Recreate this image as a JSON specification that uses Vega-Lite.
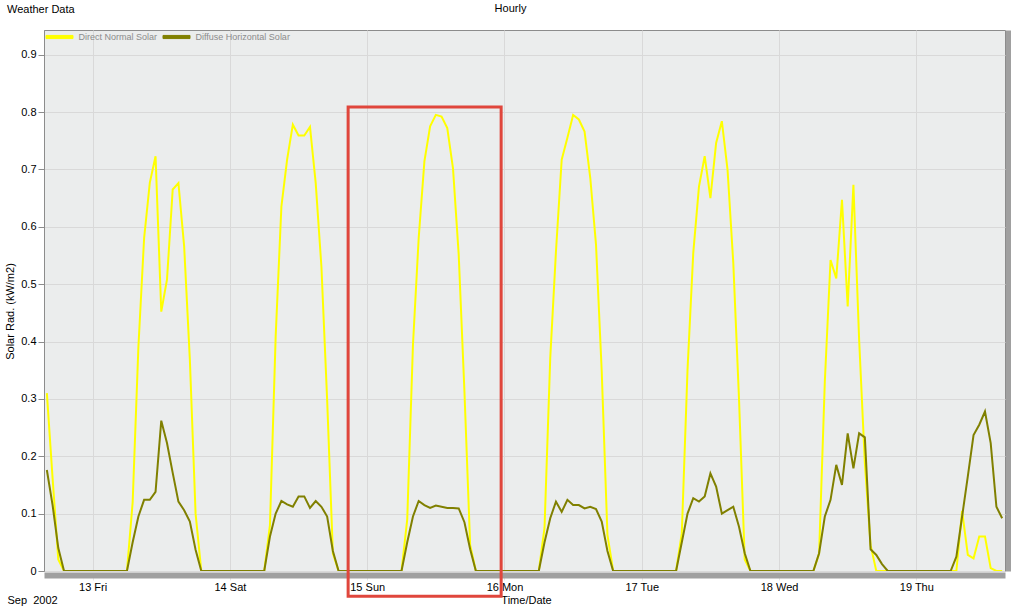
{
  "$schema": "https://vega.github.io/schema/vega-lite/v6.json",
  "width": 961,
  "height": 541,
  "autosize": {"type": "none"},
  "padding": {"left": 44, "top": 30, "right": 12, "bottom": 36},
  "background": "white",
  "title": {"text": "Weather Data", "anchor": "start", "frame": "group", "dx": -37, "dy": 13, "offset": 0, "fontSize": 11, "fontWeight": "normal", "font": "Liberation Sans", "color": "#000000"},
  "config": {
    "font": "Liberation Sans",
    "view": {"fill": "#ebeded", "stroke": "#8c8c8c", "strokeWidth": 1},
    "axisBottom": {"domain": true, "domainColor": "#a0a0a0", "domainWidth": 6},
    "axisRight": {"domain": true, "domainColor": "#a0a0a0", "domainWidth": 5}
  },
  "datasets": {
    "solar": [
      {"t":"2002-09-12T16:00","dn":0.31,"dh":0.176},
      {"t":"2002-09-12T17:00","dn":0.162,"dh":0.115},
      {"t":"2002-09-12T18:00","dn":0.02,"dh":0.04},
      {"t":"2002-09-12T19:00","dn":0,"dh":0},
      {"t":"2002-09-12T20:00","dn":0,"dh":0},
      {"t":"2002-09-12T21:00","dn":0,"dh":0},
      {"t":"2002-09-12T22:00","dn":0,"dh":0},
      {"t":"2002-09-12T23:00","dn":0,"dh":0},
      {"t":"2002-09-13T00:00","dn":0,"dh":0},
      {"t":"2002-09-13T01:00","dn":0,"dh":0},
      {"t":"2002-09-13T02:00","dn":0,"dh":0},
      {"t":"2002-09-13T03:00","dn":0,"dh":0},
      {"t":"2002-09-13T04:00","dn":0,"dh":0},
      {"t":"2002-09-13T05:00","dn":0,"dh":0},
      {"t":"2002-09-13T06:00","dn":0,"dh":0},
      {"t":"2002-09-13T07:00","dn":0.12,"dh":0.05},
      {"t":"2002-09-13T08:00","dn":0.39,"dh":0.095},
      {"t":"2002-09-13T09:00","dn":0.58,"dh":0.124},
      {"t":"2002-09-13T10:00","dn":0.677,"dh":0.124},
      {"t":"2002-09-13T11:00","dn":0.723,"dh":0.138},
      {"t":"2002-09-13T12:00","dn":0.452,"dh":0.262},
      {"t":"2002-09-13T13:00","dn":0.508,"dh":0.223},
      {"t":"2002-09-13T14:00","dn":0.665,"dh":0.171},
      {"t":"2002-09-13T15:00","dn":0.676,"dh":0.121},
      {"t":"2002-09-13T16:00","dn":0.566,"dh":0.106},
      {"t":"2002-09-13T17:00","dn":0.368,"dh":0.086},
      {"t":"2002-09-13T18:00","dn":0.1,"dh":0.037},
      {"t":"2002-09-13T19:00","dn":0,"dh":0},
      {"t":"2002-09-13T20:00","dn":0,"dh":0},
      {"t":"2002-09-13T21:00","dn":0,"dh":0},
      {"t":"2002-09-13T22:00","dn":0,"dh":0},
      {"t":"2002-09-13T23:00","dn":0,"dh":0},
      {"t":"2002-09-14T00:00","dn":0,"dh":0},
      {"t":"2002-09-14T01:00","dn":0,"dh":0},
      {"t":"2002-09-14T02:00","dn":0,"dh":0},
      {"t":"2002-09-14T03:00","dn":0,"dh":0},
      {"t":"2002-09-14T04:00","dn":0,"dh":0},
      {"t":"2002-09-14T05:00","dn":0,"dh":0},
      {"t":"2002-09-14T06:00","dn":0,"dh":0},
      {"t":"2002-09-14T07:00","dn":0.08,"dh":0.06},
      {"t":"2002-09-14T08:00","dn":0.409,"dh":0.1},
      {"t":"2002-09-14T09:00","dn":0.635,"dh":0.122},
      {"t":"2002-09-14T10:00","dn":0.717,"dh":0.116},
      {"t":"2002-09-14T11:00","dn":0.778,"dh":0.112},
      {"t":"2002-09-14T12:00","dn":0.759,"dh":0.13},
      {"t":"2002-09-14T13:00","dn":0.759,"dh":0.13},
      {"t":"2002-09-14T14:00","dn":0.774,"dh":0.11},
      {"t":"2002-09-14T15:00","dn":0.676,"dh":0.122},
      {"t":"2002-09-14T16:00","dn":0.53,"dh":0.112},
      {"t":"2002-09-14T17:00","dn":0.298,"dh":0.095},
      {"t":"2002-09-14T18:00","dn":0.031,"dh":0.035},
      {"t":"2002-09-14T19:00","dn":0,"dh":0},
      {"t":"2002-09-14T20:00","dn":0,"dh":0},
      {"t":"2002-09-14T21:00","dn":0,"dh":0},
      {"t":"2002-09-14T22:00","dn":0,"dh":0},
      {"t":"2002-09-14T23:00","dn":0,"dh":0},
      {"t":"2002-09-15T00:00","dn":0,"dh":0},
      {"t":"2002-09-15T01:00","dn":0,"dh":0},
      {"t":"2002-09-15T02:00","dn":0,"dh":0},
      {"t":"2002-09-15T03:00","dn":0,"dh":0},
      {"t":"2002-09-15T04:00","dn":0,"dh":0},
      {"t":"2002-09-15T05:00","dn":0,"dh":0},
      {"t":"2002-09-15T06:00","dn":0,"dh":0},
      {"t":"2002-09-15T07:00","dn":0.09,"dh":0.05},
      {"t":"2002-09-15T08:00","dn":0.394,"dh":0.095},
      {"t":"2002-09-15T09:00","dn":0.58,"dh":0.122},
      {"t":"2002-09-15T10:00","dn":0.714,"dh":0.115},
      {"t":"2002-09-15T11:00","dn":0.775,"dh":0.11},
      {"t":"2002-09-15T12:00","dn":0.795,"dh":0.114},
      {"t":"2002-09-15T13:00","dn":0.792,"dh":0.112},
      {"t":"2002-09-15T14:00","dn":0.772,"dh":0.11},
      {"t":"2002-09-15T15:00","dn":0.702,"dh":0.11},
      {"t":"2002-09-15T16:00","dn":0.551,"dh":0.109},
      {"t":"2002-09-15T17:00","dn":0.313,"dh":0.085},
      {"t":"2002-09-15T18:00","dn":0.045,"dh":0.038},
      {"t":"2002-09-15T19:00","dn":0,"dh":0},
      {"t":"2002-09-15T20:00","dn":0,"dh":0},
      {"t":"2002-09-15T21:00","dn":0,"dh":0},
      {"t":"2002-09-15T22:00","dn":0,"dh":0},
      {"t":"2002-09-15T23:00","dn":0,"dh":0},
      {"t":"2002-09-16T00:00","dn":0,"dh":0},
      {"t":"2002-09-16T01:00","dn":0,"dh":0},
      {"t":"2002-09-16T02:00","dn":0,"dh":0},
      {"t":"2002-09-16T03:00","dn":0,"dh":0},
      {"t":"2002-09-16T04:00","dn":0,"dh":0},
      {"t":"2002-09-16T05:00","dn":0,"dh":0},
      {"t":"2002-09-16T06:00","dn":0,"dh":0},
      {"t":"2002-09-16T07:00","dn":0.075,"dh":0.05},
      {"t":"2002-09-16T08:00","dn":0.371,"dh":0.092},
      {"t":"2002-09-16T09:00","dn":0.557,"dh":0.121},
      {"t":"2002-09-16T10:00","dn":0.717,"dh":0.103},
      {"t":"2002-09-16T11:00","dn":0.755,"dh":0.124},
      {"t":"2002-09-16T12:00","dn":0.795,"dh":0.115},
      {"t":"2002-09-16T13:00","dn":0.787,"dh":0.115},
      {"t":"2002-09-16T14:00","dn":0.766,"dh":0.109},
      {"t":"2002-09-16T15:00","dn":0.685,"dh":0.112},
      {"t":"2002-09-16T16:00","dn":0.569,"dh":0.108},
      {"t":"2002-09-16T17:00","dn":0.348,"dh":0.086},
      {"t":"2002-09-16T18:00","dn":0.063,"dh":0.035},
      {"t":"2002-09-16T19:00","dn":0,"dh":0},
      {"t":"2002-09-16T20:00","dn":0,"dh":0},
      {"t":"2002-09-16T21:00","dn":0,"dh":0},
      {"t":"2002-09-16T22:00","dn":0,"dh":0},
      {"t":"2002-09-16T23:00","dn":0,"dh":0},
      {"t":"2002-09-17T00:00","dn":0,"dh":0},
      {"t":"2002-09-17T01:00","dn":0,"dh":0},
      {"t":"2002-09-17T02:00","dn":0,"dh":0},
      {"t":"2002-09-17T03:00","dn":0,"dh":0},
      {"t":"2002-09-17T04:00","dn":0,"dh":0},
      {"t":"2002-09-17T05:00","dn":0,"dh":0},
      {"t":"2002-09-17T06:00","dn":0,"dh":0},
      {"t":"2002-09-17T07:00","dn":0.066,"dh":0.05},
      {"t":"2002-09-17T08:00","dn":0.351,"dh":0.1},
      {"t":"2002-09-17T09:00","dn":0.554,"dh":0.127},
      {"t":"2002-09-17T10:00","dn":0.67,"dh":0.121},
      {"t":"2002-09-17T11:00","dn":0.723,"dh":0.13},
      {"t":"2002-09-17T12:00","dn":0.65,"dh":0.17},
      {"t":"2002-09-17T13:00","dn":0.746,"dh":0.147},
      {"t":"2002-09-17T14:00","dn":0.784,"dh":0.1},
      {"t":"2002-09-17T15:00","dn":0.699,"dh":0.106},
      {"t":"2002-09-17T16:00","dn":0.537,"dh":0.112},
      {"t":"2002-09-17T17:00","dn":0.3,"dh":0.077},
      {"t":"2002-09-17T18:00","dn":0.02,"dh":0.031},
      {"t":"2002-09-17T19:00","dn":0,"dh":0},
      {"t":"2002-09-17T20:00","dn":0,"dh":0},
      {"t":"2002-09-17T21:00","dn":0,"dh":0},
      {"t":"2002-09-17T22:00","dn":0,"dh":0},
      {"t":"2002-09-17T23:00","dn":0,"dh":0},
      {"t":"2002-09-18T00:00","dn":0,"dh":0},
      {"t":"2002-09-18T01:00","dn":0,"dh":0},
      {"t":"2002-09-18T02:00","dn":0,"dh":0},
      {"t":"2002-09-18T03:00","dn":0,"dh":0},
      {"t":"2002-09-18T04:00","dn":0,"dh":0},
      {"t":"2002-09-18T05:00","dn":0,"dh":0},
      {"t":"2002-09-18T06:00","dn":0,"dh":0},
      {"t":"2002-09-18T07:00","dn":0.03,"dh":0.031},
      {"t":"2002-09-18T08:00","dn":0.33,"dh":0.095},
      {"t":"2002-09-18T09:00","dn":0.542,"dh":0.124},
      {"t":"2002-09-18T10:00","dn":0.51,"dh":0.185},
      {"t":"2002-09-18T11:00","dn":0.647,"dh":0.15},
      {"t":"2002-09-18T12:00","dn":0.461,"dh":0.24},
      {"t":"2002-09-18T13:00","dn":0.673,"dh":0.179},
      {"t":"2002-09-18T14:00","dn":0.403,"dh":0.24},
      {"t":"2002-09-18T15:00","dn":0.188,"dh":0.233},
      {"t":"2002-09-18T16:00","dn":0.045,"dh":0.038},
      {"t":"2002-09-18T17:00","dn":0,"dh":0.028},
      {"t":"2002-09-18T18:00","dn":0,"dh":0.012},
      {"t":"2002-09-18T19:00","dn":0,"dh":0},
      {"t":"2002-09-18T20:00","dn":0,"dh":0},
      {"t":"2002-09-18T21:00","dn":0,"dh":0},
      {"t":"2002-09-18T22:00","dn":0,"dh":0},
      {"t":"2002-09-18T23:00","dn":0,"dh":0},
      {"t":"2002-09-19T00:00","dn":0,"dh":0},
      {"t":"2002-09-19T01:00","dn":0,"dh":0},
      {"t":"2002-09-19T02:00","dn":0,"dh":0},
      {"t":"2002-09-19T03:00","dn":0,"dh":0},
      {"t":"2002-09-19T04:00","dn":0,"dh":0},
      {"t":"2002-09-19T05:00","dn":0,"dh":0},
      {"t":"2002-09-19T06:00","dn":0,"dh":0},
      {"t":"2002-09-19T07:00","dn":0,"dh":0.025},
      {"t":"2002-09-19T08:00","dn":0.105,"dh":0.095},
      {"t":"2002-09-19T09:00","dn":0.028,"dh":0.165},
      {"t":"2002-09-19T10:00","dn":0.022,"dh":0.237},
      {"t":"2002-09-19T11:00","dn":0.06,"dh":0.255},
      {"t":"2002-09-19T12:00","dn":0.06,"dh":0.278},
      {"t":"2002-09-19T13:00","dn":0.005,"dh":0.223},
      {"t":"2002-09-19T14:00","dn":0,"dh":0.112},
      {"t":"2002-09-19T15:00","dn":0,"dh":0.092}
    ],
    "box": [
      {"start":"2002-09-14T20:40","end":"2002-09-15T23:25","top":0.809,"bottom":-0.044}
    ]
  },
  "resolve": {"axis": {"x": "independent", "y": "independent"}},
  "layer": [
    {
      "data": {"name": "solar"},
      "transform": [{"fold": ["dn", "dh"], "as": ["series", "value"]}],
      "mark": {"type": "line", "strokeWidth": 2, "clip": true, "interpolate": "linear"},
      "encoding": {
        "x": {
          "field": "t", "type": "temporal",
          "scale": {"domain": [{"year": 2002, "month": 9, "date": 12, "hours": 15, "minutes": 30}, {"year": 2002, "month": 9, "date": 19, "hours": 15, "minutes": 30}]},
          "axis": {
            "orient": "bottom",
            "format": "%-d %a",
            "tickCount": {"interval": "day", "step": 1},
            "grid": false,
            "offset": 4,
            "tickColor": "#e8e8e8",
            "tickSize": 5,
            "labelFontSize": 11,
            "labelColor": "#000000",
            "labelPadding": 1,
            "labelFlush": false,
            "labelOverlap": false,
            "title": "Time/Date",
            "titleFontSize": 11,
            "titleFontWeight": "normal",
            "titleColor": "#000000",
            "titleX": 482,
            "titleY": 25,
            "titleAlign": "center",
            "titleBaseline": "middle"
          }
        },
        "y": {
          "field": "value", "type": "quantitative",
          "scale": {"domain": [0, 0.943], "nice": false, "zero": true},
          "axis": {
            "orient": "left",
            "values": [0, 0.1, 0.2, 0.3, 0.4, 0.5, 0.6, 0.7, 0.8, 0.9],
            "format": ".2~f",
            "grid": true,
            "gridColor": "#d9d9d9",
            "gridWidth": 1,
            "domainColor": "#8c8c8c",
            "tickColor": "#8c8c8c",
            "tickSize": 6,
            "labelFontSize": 11,
            "labelColor": "#000000",
            "labelPadding": 2,
            "title": "Solar Rad. (kW/m2)",
            "titleFontSize": 11,
            "titleFontWeight": "normal",
            "titleColor": "#000000",
            "titleX": -34,
            "titleY": 281,
            "titleAlign": "center",
            "titleBaseline": "middle"
          }
        },
        "color": {
          "field": "series", "type": "nominal",
          "scale": {"domain": ["dn", "dh"], "range": ["#ffff00", "#808000"]},
          "legend": {
            "orient": "top-left",
            "offset": 2,
            "padding": 0,
            "direction": "horizontal",
            "title": null,
            "labelExpr": "datum.value == 'dn' ? 'Direct Normal Solar' : 'Diffuse Horizontal Solar'",
            "symbolType": "M-3,-0.35H3V0.35H-3Z",
            "symbolSize": 81,
            "symbolStrokeWidth": 1,
            "symbolOffset": 8.5,
            "labelOffset": 14,
            "columnPadding": 3,
            "labelFontSize": 9,
            "labelColor": "#8c8c8c",
            "labelFont": "Liberation Sans",
            "encode": {
              "symbols": {
                "update": {
                  "fill": {"scale": "color", "field": "value"},
                  "stroke": {"value": "#6f6f3a"},
                  "strokeWidth": {"value": 1},
                  "opacity": {"value": 1}
                }
              }
            }
          }
        }
      }
    },
    {
      "data": {"name": "solar"},
      "mark": {"type": "line", "opacity": 0},
      "encoding": {
        "x": {
          "field": "t", "type": "temporal",
          "axis": {
            "orient": "top",
            "tickCount": {"interval": "day", "step": 1},
            "grid": true,
            "gridColor": "#d9d9d9",
            "gridWidth": 1,
            "labels": false,
            "ticks": false,
            "domain": false,
            "title": "Hourly",
            "titleFontSize": 11,
            "titleFontWeight": "normal",
            "titleColor": "#000000",
            "titleX": 466,
            "titleY": -22,
            "titleAlign": "center",
            "titleBaseline": "middle"
          }
        },
        "y": {
          "field": "dn", "type": "quantitative",
          "axis": {
            "orient": "right",
            "offset": 3,
            "grid": false,
            "labels": false,
            "ticks": false,
            "title": "Sep\u00a0 2002",
            "titleAngle": 0,
            "titleFontSize": 11,
            "titleFontWeight": "normal",
            "titleColor": "#000000",
            "titleX": -1001,
            "titleY": 570,
            "titleAlign": "left",
            "titleBaseline": "middle"
          }
        }
      }
    },
    {
      "data": {"name": "box"},
      "mark": {"type": "rect", "fill": "transparent", "stroke": "#e0463c", "strokeWidth": 3, "clip": false},
      "encoding": {
        "x": {"field": "start", "type": "temporal", "axis": null},
        "x2": {"field": "end"},
        "y": {"field": "top", "type": "quantitative", "axis": null},
        "y2": {"field": "bottom"}
      }
    }
  ]
}
